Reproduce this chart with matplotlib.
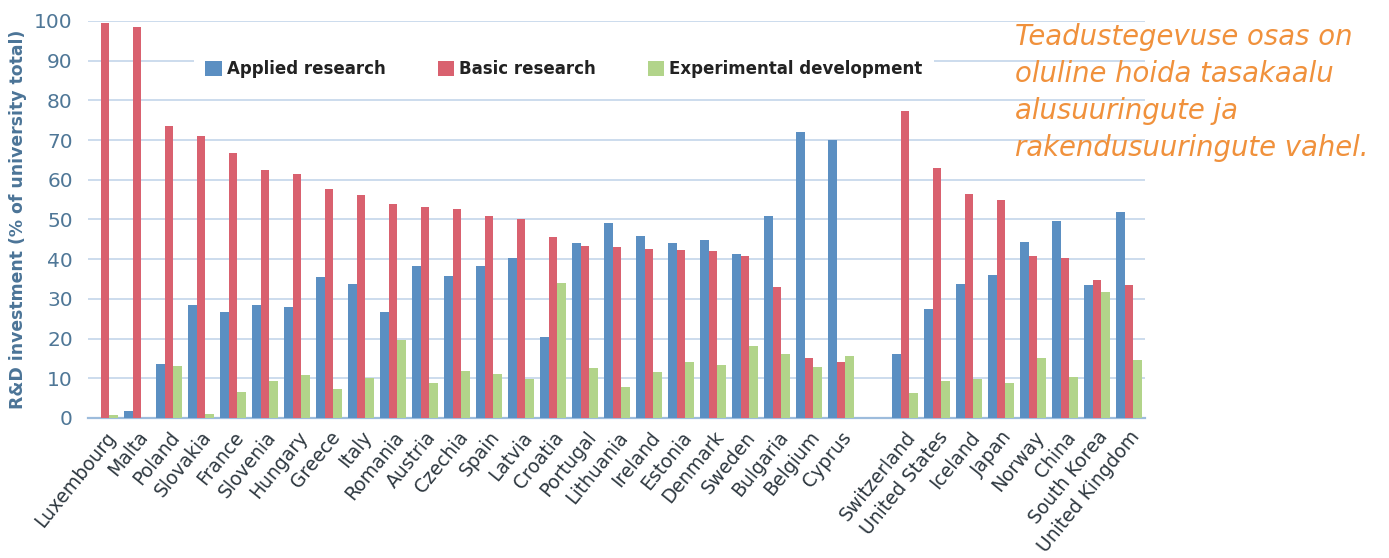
import numpy as np
import matplotlib
matplotlib.use("Agg")
import matplotlib.pyplot as plt

# values (% of university R&D total)
countries = ["Luxembourg", "Malta", "Poland", "Slovakia", "France", "Slovenia",
             "Hungary", "Greece", "Italy", "Romania", "Austria", "Czechia",
             "Spain", "Latvia", "Croatia", "Portugal", "Lithuania", "Ireland",
             "Estonia", "Denmark", "Sweden", "Bulgaria", "Belgium", "Cyprus",
             "",
             "Switzerland", "United States", "Iceland", "Japan", "Norway",
             "China", "South Korea", "United Kingdom"]

applied = [0.0, 1.8, 13.6, 28.4, 26.8, 28.4, 28.0, 35.4, 33.8, 26.8, 38.2, 35.8,
           38.2, 40.2, 20.4, 44.1, 49.1, 45.9, 44.0, 44.8, 41.2, 50.8, 72.1, 70.1,
           np.nan,
           16.2, 27.5, 33.8, 36.0, 44.4, 49.5, 33.4, 52.0]

basic = [99.5, 98.5, 73.5, 71.0, 66.7, 62.4, 61.4, 57.7, 56.2, 53.8, 53.2, 52.6,
         50.8, 50.2, 45.7, 43.3, 43.1, 42.6, 42.2, 42.0, 40.7, 33.0, 15.0, 14.2,
         np.nan,
         77.4, 63.0, 56.5, 55.0, 40.9, 40.2, 34.8, 33.4]

experimental = [0.8, 0.0, 13.0, 0.9, 6.6, 9.3, 10.8, 7.2, 10.0, 19.7, 8.8, 11.8,
                11.0, 9.8, 33.9, 12.7, 7.9, 11.7, 14.0, 13.3, 18.2, 16.2, 12.8, 15.7,
                np.nan,
                6.4, 9.3, 9.8, 8.9, 15.0, 10.3, 31.8, 14.6]

note = "Teadustegevuse osas on\noluline hoida tasakaalu\nalusuuringute ja\nrakendusuuringute vahel."

BLUE = "#5b8fc2"
RED = "#d9616f"
GREEN = "#b2d48a"
GRID = "#c8d9ec"
TICK = "#4f7797"

fig = plt.figure(figsize=(13.89, 5.58), dpi=100)
ax = fig.add_axes([0.0634, 0.2509, 0.7609, 0.7115])

x = np.arange(len(countries))
w = 0.27
ax.bar(x - w, applied, w, color=BLUE, label="Applied research", zorder=3)
ax.bar(x, basic, w, color=RED, label="Basic research", zorder=3)
ax.bar(x + w, experimental, w, color=GREEN, label="Experimental development", zorder=3)

ax.set_xlim(-0.53, len(countries) - 0.5)
ax.set_ylim(0, 100)
ax.set_yticks(np.arange(0, 101, 10))
ax.yaxis.grid(True, color=GRID, lw=1.3, zorder=0)
ax.set_axisbelow(True)
for s in ["top", "right", "left"]:
    ax.spines[s].set_visible(False)
ax.spines["bottom"].set_color("#9dbcdc")
ax.spines["bottom"].set_linewidth(1.6)

ax.tick_params(axis="y", length=0, pad=11, labelsize=14.5, labelcolor=TICK)
ax.tick_params(axis="x", length=0, pad=7)
ax.set_xticks(x)
ax.set_xticklabels(countries, rotation=51, ha="right", va="top",
                   rotation_mode="anchor", fontsize=13.5, color="#2e3840")

ax.set_ylabel("R&D investment (% of university total)", fontsize=12.4,
              fontweight="bold", color="#4b7497", labelpad=5)

leg = ax.legend(loc="center left", bbox_to_anchor=(0.1, 0.879), ncol=3,
                frameon=True, fancybox=False, edgecolor="none", facecolor="white",
                framealpha=1, borderaxespad=0, handlelength=1.0, handleheight=1.0,
                handletextpad=0.3, columnspacing=3.1, borderpad=0.7,
                prop={"weight": "bold", "size": 12.0})
for t in leg.get_texts():
    t.set_color("#222222")

fig.text(0.7307, 0.959, note, fontsize=19.8, style="italic", color="#f0913c",
         ha="left", va="top", linespacing=1.41)

fig.savefig("out.png", dpi=100)
